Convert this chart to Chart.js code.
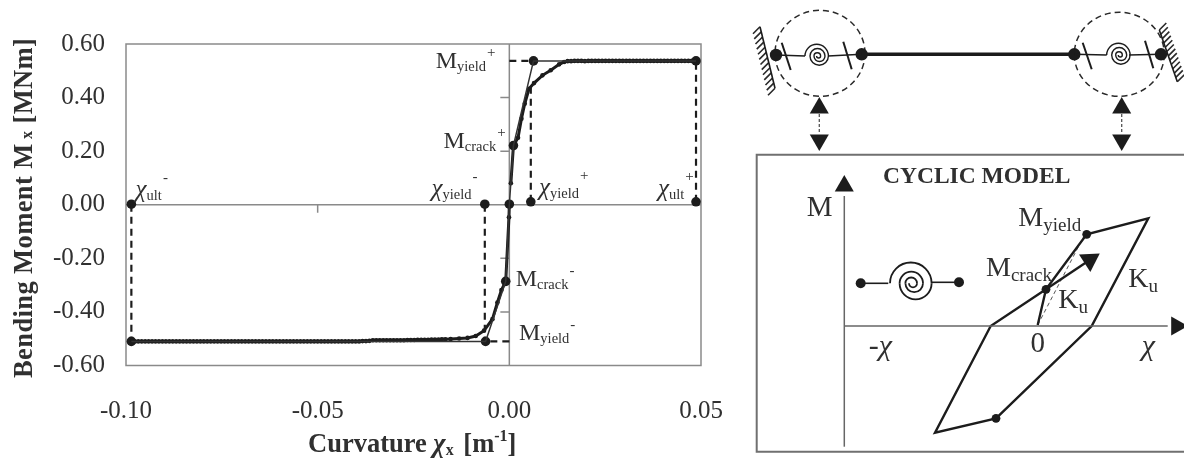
<!DOCTYPE html>
<html>
<head>
<meta charset="utf-8">
<title>Bending moment vs curvature</title>
<script src="https://cdn.jsdelivr.net/npm/chart.js@4/dist/chart.umd.min.js"></script>
<style>
    html, body { margin: 0; background: #fff; }
    #wrap { position: relative; width: 1184px; height: 460px; overflow: hidden; }
    canvas { position: absolute; filter: blur(0.45px); }
    #mainChart { left: 0; top: 0; }
    #beamChart { left: 740px; top: 0; }
    #modelChart { left: 740px; top: 150px; }
</style>
</head>
<body>
<div id="wrap">
    <canvas id="mainChart" width="740" height="460"></canvas>
    <canvas id="beamChart" width="444" height="155"></canvas>
    <canvas id="modelChart" width="444" height="310"></canvas>
</div>
<script>
// left plot: moment curvature curve
const xTicks = [-0.10, -0.05, 0.00, 0.05];
const yTicks = [0.60, 0.40, 0.20, 0.00, -0.20, -0.40, -0.60];

const curveNegX = [
    -.0986, -.0977, -.0968, -.0959, -.0950, -.0941, -.0932, -.0923, -.0914, -.0905,
    -.0896, -.0887, -.0878, -.0869, -.0860, -.0851, -.0842, -.0833, -.0824, -.0815,
    -.0806, -.0797, -.0788, -.0779, -.0770, -.0761, -.0752, -.0743, -.0734, -.0725,
    -.0716, -.0707, -.0698, -.0689, -.0680, -.0671, -.0662, -.0653, -.0644, -.0635,
    -.0626, -.0617, -.0608, -.0599, -.0590, -.0581, -.0572, -.0563, -.0554, -.0545,
    -.0536, -.0527, -.0518, -.0509, -.0500, -.0491, -.0482, -.0473, -.0464, -.0455,
    -.0446, -.0437, -.0428, -.0419, -.0410, -.0401, -.0392, -.0383, -.0374, -.0365,
    -.0356, -.0347, -.0338, -.0329, -.0320, -.0311, -.0302, -.0293, -.0284, -.0275,
    -.0266, -.0257, -.0248, -.0239, -.0230, -.0221, -.0212, -.0203, -.0194, -.0185,
    -.0176, -.0167, -.0153, -.0131, -.0109, -.00877, -.0066, -.00441, -.00311, -.00206,
    -.00094, -.0001, 0
];
const curveNegY = [
    -.510, -.510, -.510, -.510, -.510, -.510, -.510, -.510, -.510, -.510,
    -.510, -.510, -.510, -.510, -.510, -.510, -.510, -.510, -.510, -.510,
    -.510, -.510, -.510, -.510, -.510, -.510, -.510, -.510, -.510, -.510,
    -.510, -.510, -.510, -.510, -.510, -.510, -.510, -.510, -.510, -.510,
    -.510, -.510, -.510, -.510, -.510, -.510, -.510, -.510, -.510, -.510,
    -.510, -.510, -.510, -.510, -.510, -.510, -.510, -.510, -.510, -.510,
    -.510, -.510, -.510, -.510, -.510, -.510, -.510, -.509, -.509, -.508,
    -.506, -.506, -.506, -.506, -.506, -.506, -.506, -.506, -.506, -.506,
    -.505, -.505, -.505, -.504, -.504, -.504, -.504, -.503, -.503, -.503,
    -.502, -.502, -.501, -.499, -.497, -.490, -.470, -.427, -.365, -.318,
    -.286, -.047, 0
];
const curvePosX = [
    .0004, .00107, .00227, .00316, .00402, .00514, .00645, .00864, .0108, .0130, .0143,
    .0152, .0161, .0170, .0179, .0188, .0197, .0206, .0215, .0224, .0233,
    .0242, .0251, .0260, .0269, .0278, .0287, .0296, .0305, .0314, .0323,
    .0332, .0341, .0350, .0359, .0368, .0377, .0386, .0395, .0404, .0413,
    .0422, .0431, .0440, .0449, .0458, .0467, .0476, .0487
];
const curvePosY = [
    .080, .221, .250, .321, .377, .433, .454, .483, .502, .524, .533,
    .536, .536, .537, .537, .537, .536, .537, .537, .537, .537,
    .537, .537, .537, .537, .537, .537, .537, .537, .537, .537,
    .537, .537, .537, .537, .537, .537, .537, .537, .537, .537,
    .537, .537, .537, .537, .537, .537, .537, .537
];
const bilinearX = [-.0986, -.0062, -.00094, 0, .00107, .0063, .0487];
const bilinearY = [-.510, -.510, -.286, 0, .221, .537, .537];
const keyX = [-.0986, -.0986, -.0064, -.0062, -.00094, 0, .00107, .0056, .0063, .0487, .0487];
const keyY = [.002, -.510, .002, -.510, -.286, .002, .221, .011, .537, .537, .011];
const dropLines = [
    { x: [-.0986, -.0986], y: [0, -.510] },
    { x: [-.0064, -.0064], y: [0, -.510] },
    { x: [.0056, .0056], y: [.011, .440] },
    { x: [.0487, .0487], y: [.011, .537] },
    { x: [0, .0063], y: [.537, .537] },
    { x: [0, -.0062], y: [-.510, -.510] }
];
const mainLabels = [
    { x: -.0192, y: .510, base: 'M', sub: 'yield', sup: '+', size: 24, up: 11 },
    { x: -.0172, y: .2127, base: 'M', sub: 'crack', sup: '+', size: 24, up: 11 },
    { x: -.0203, y: .0318, base: 'χ', italic: true, sub: 'yield', sup: '-', size: 25, up: 15 },
    { x: .00775, y: .0381, base: 'χ', italic: true, sub: 'yield', sup: '+', size: 25, up: 15 },
    { x: .0388, y: .0344, base: 'χ', italic: true, sub: 'ult', sup: '+', size: 25, up: 15 },
    { x: -.0975, y: .028, base: 'χ', italic: true, sub: 'ult', sup: '-', size: 25, up: 15 },
    { x: .00167, y: -.302, base: 'M', sub: 'crack', sup: '-', size: 24, up: 11 },
    { x: .00253, y: -.504, base: 'M', sub: 'yield', sup: '-', size: 24, up: 11 }
];

// top right: beam with its two end springs, scale units are the picture's own
const beamX = [861.7, 1074.3];
const beamY = [54.3, 54.3];
const beamNodesX = [776, 861.7, 1074.3, 1161];
const beamNodesY = [55, 54.3, 54.3, 54.3];
const springLeads = [
    { x: [776, 805], y: [55, 56] },
    { x: [828, 861.7], y: [56, 54.3] },
    { x: [1074.3, 1106.7], y: [54.3, 55] },
    { x: [1129, 1161], y: [55, 54.3] }
];
const slashes = [
    { x: [781.7, 790.7], y: [42.7, 70] },
    { x: [843.3, 851.7], y: [41.7, 69.3] },
    { x: [1082.7, 1091.7], y: [42.7, 69.3] },
    { x: [1145, 1153.3], y: [40.7, 68.3] }
];
const walls = [
    { x: [760, 775], y: [26.7, 88.3], side: -1 },
    { x: [1159.3, 1177.3], y: [30, 81.7], side: 1 }
];
const hingeCircles = [
    { x: 820, y: 53.3, rx: 45, ry: 43 },
    { x: 1119.3, y: 54.3, rx: 45, ry: 42 }
];
const beamSpirals = [
    { x: 805, y: 56, radii: [11.7, 9.2, 7.5, 5.5, 3.3, 2] },
    { x: 1106.7, y: 55, radii: [11.7, 9.2, 7.5, 5.5, 3.3, 2] }
];
const linkX = [819.3, 1121.7];
const linkTopY = 114, linkBottomY = 134;
const arrowUpY = [108, 108];
const arrowDownY = [140, 140];

// bottom right: cyclic model, arbitrary units with 0 at the origin of the sketch
const loopX = [0, .83, 4.9, 11.06, 5.4, -4.17, -10.27, -4.7, .83];
const loopY = [.1, 3.67, 9.17, 10.77, 0, -9.23, -10.67, 0, 3.67];
const loopNodesX = [.83, 4.9, -4.17];
const loopNodesY = [3.67, 9.17, -9.23];
const pathArrowX = [.83, 5.2];
const pathArrowY = [3.67, 6.6];
const unloadX = [0, 4.56];
const unloadY = [.1, 8.87];
const frameX = [15, -28.1, -28.1, 15];
const frameY = [17.13, 17.13, -12.57, -12.57];
const mAxisX = [-19.34, -19.34];
const mAxisY = [-12.07, 13];
const chiAxisX = [-19.34, 13];
const chiAxisY = [0, 0];
const modelSpringNodesX = [-17.7, -7.87];
const modelSpringNodesY = [4.27, 4.37];
const modelLeads = [
    { x: [-17.7, -14.94], y: [4.27, 4.27] },
    { x: [-10.6, -7.87], y: [4.37, 4.37] }
];
const modelSpiral = { x: -14.77, y: 4.27, radii: [20.8, 16, 11.7, 8.8, 5.8, 4] };
const modelLabels = [
    { x: -15.47, y: 14.27, base: 'CYCLIC MODEL', size: 23.5, bold: true },
    { x: -23.1, y: 11.03, base: 'M', size: 29 },
    { x: -16.9, y: -2.9, base: '-χ', italic: true, size: 30 },
    { x: -.73, y: -2.57, base: '0', size: 29 },
    { x: 10.4, y: -2.9, base: 'χ', italic: true, size: 30 },
    { x: -1.94, y: 10, base: 'M', sub: 'yield', size: 28, subSize: 19 },
    { x: -5.17, y: 5, base: 'M', sub: 'crack', size: 28, subSize: 19 },
    { x: 9.06, y: 3.93, base: 'K', sub: 'u', size: 28, subSize: 19 },
    { x: 2.06, y: 1.83, base: 'K', sub: 'u', size: 28, subSize: 19 }
];

const serif = '"Liberation Serif", "Times New Roman", serif';
const ink = '#1c1c1c';
const textInk = '#303030';

function pts(xs, ys) {
    return xs.map((x, i) => ({ x: x, y: ys[i] }));
}

function line(xs, ys, color, width, dash) {
    return {
        data: pts(xs, ys), showLine: true, borderColor: color, borderWidth: width,
        borderDash: dash || [], pointRadius: 0, tension: 0
    };
}

function dots(xs, ys, radius, style, rotation) {
    return {
        data: pts(xs, ys), showLine: false, backgroundColor: ink, borderColor: ink,
        pointRadius: radius, pointStyle: style || 'circle', rotation: rotation || 0,
        pointBorderWidth: 0
    };
}

// text with subscript and superscript, drawn piece by piece
function richText(ctx, x, y, pieces) {
    let cx = x;
    pieces.forEach(p => {
        ctx.font = p.font;
        ctx.fillText(p.t, cx, y + (p.dy || 0));
        cx += ctx.measureText(p.t).width + (p.gap || 0);
    });
}

function drawLabel(chart, l) {
    const ctx = chart.ctx;
    const px = chart.scales.x.getPixelForValue(l.x);
    const py = chart.scales.y.getPixelForValue(l.y);
    const style = (l.italic ? 'italic ' : '') + (l.bold ? 'bold ' : '');
    const pieces = [{ t: l.base, font: style + l.size + 'px ' + serif }];
    if (l.sub) pieces.push({ t: l.sub, font: (l.subSize || 14.5) + 'px ' + serif, dy: l.subSize ? 5 : 3, gap: 1 });
    if (l.sup) pieces.push({ t: l.sup, font: '15px ' + serif, dy: -l.up });
    ctx.save();
    ctx.fillStyle = textInk;
    ctx.textBaseline = 'alphabetic';
    ctx.textAlign = 'left';
    richText(ctx, px, py, pieces);
    ctx.restore();
}

function drawSpiral(chart, s, width) {
    const ctx = chart.ctx;
    let x = chart.scales.x.getPixelForValue(s.x);
    const y = chart.scales.y.getPixelForValue(s.y);
    ctx.save();
    ctx.strokeStyle = ink;
    ctx.lineWidth = width;
    s.radii.forEach((r, i) => {
        ctx.beginPath();
        if (i % 2 === 0) {
            ctx.arc(x + r, y, r, Math.PI, 2 * Math.PI);
            x += 2 * r;
        } else {
            ctx.arc(x - r, y, r, 0, Math.PI);
            x -= 2 * r;
        }
        ctx.stroke();
    });
    ctx.restore();
}

const plotFrame = {
    id: 'plotFrame',
    beforeDatasetsDraw(chart) {
        const { ctx, chartArea: a, scales } = chart;
        const zeroX = scales.x.getPixelForValue(0);
        const zeroY = scales.y.getPixelForValue(0);
        ctx.save();
        ctx.strokeStyle = '#8a8a8a';
        ctx.lineWidth = 1.5;
        ctx.strokeRect(a.left, a.top, a.right - a.left, a.bottom - a.top);
        ctx.beginPath();
        ctx.moveTo(a.left, zeroY);
        ctx.lineTo(a.right, zeroY);
        ctx.moveTo(zeroX, a.top);
        ctx.lineTo(zeroX, a.bottom);
        // tick marks sit on the zero lines, not on the frame
        xTicks.filter(v => v > -0.1 && v < 0).forEach(v => {
            const px = scales.x.getPixelForValue(v);
            ctx.moveTo(px, zeroY);
            ctx.lineTo(px, zeroY + 8);
        });
        yTicks.filter(v => v !== 0 && Math.abs(v) < 0.6).forEach(v => {
            const py = scales.y.getPixelForValue(v);
            ctx.moveTo(zeroX, py);
            ctx.lineTo(zeroX - 9, py);
        });
        ctx.stroke();
        ctx.restore();
    },
    afterDatasetsDraw(chart) {
        const ctx = chart.ctx;
        mainLabels.forEach(l => drawLabel(chart, l));
        const bold = 'bold 26.5px ' + serif;
        ctx.save();
        ctx.fillStyle = textInk;
        ctx.textAlign = 'left';
        ctx.textBaseline = 'alphabetic';
        richText(ctx, 308, 451.7, [
            { t: 'Curvature ', font: bold },
            { t: 'χ', font: 'italic ' + bold },
            { t: 'x', font: 'bold 16px ' + serif, dy: 3, gap: 3 },
            { t: ' [m', font: bold },
            { t: '-1', font: 'bold 16px ' + serif, dy: -11 },
            { t: ']', font: bold }
        ]);
        ctx.translate(32, 378);
        ctx.rotate(-Math.PI / 2);
        ctx.letterSpacing = '0.4px';
        richText(ctx, 0, 0, [
            { t: 'Bending Moment M', font: bold },
            { t: ' x', font: 'bold 16px ' + serif },
            { t: ' [MNm]', font: bold }
        ]);
        ctx.restore();
    }
};

new Chart(document.getElementById('mainChart'), {
    type: 'scatter',
    data: {
        datasets: [
            line(bilinearX, bilinearY, '#333', 1.5),
            ...dropLines.map(d => line(d.x, d.y, ink, 2.2, [7, 5])),
            line(curveNegX, curveNegY, ink, 3),
            line(curvePosX, curvePosY, ink, 3),
            dots(curveNegX, curveNegY, 2.3),
            dots(curvePosX, curvePosY, 2.3),
            dots(keyX, keyY, 4.8)
        ]
    },
    options: {
        responsive: false,
        animation: false,
        layout: { autoPadding: false, padding: { top: 44, right: 39, left: 0, bottom: 0 } },
        plugins: { legend: { display: false }, tooltip: { enabled: false } },
        scales: {
            x: {
                type: 'linear', min: -0.10, max: 0.05,
                // tick padding would otherwise eat into the plot width
                afterFit: s => { s.height = 94.5; s.paddingRight = 0; s.paddingLeft = 0; },
                afterBuildTicks: s => { s.ticks = xTicks.map(v => ({ value: v })); },
                grid: { display: false, drawTicks: false },
                border: { display: false },
                ticks: {
                    padding: 31, color: textInk, autoSkip: false, maxRotation: 0,
                    font: { family: serif, size: 25 },
                    callback: v => v.toFixed(2)
                }
            },
            y: {
                type: 'linear', min: -0.60, max: 0.60,
                afterFit: s => { s.width = 126; },
                afterBuildTicks: s => { s.ticks = yTicks.map(v => ({ value: v })); },
                grid: { display: false, drawTicks: false },
                border: { display: false },
                ticks: {
                    padding: 21, color: textInk, autoSkip: false,
                    font: { family: serif, size: 25 },
                    callback: v => v.toFixed(2)
                }
            }
        }
    },
    plugins: [plotFrame]
});

const bareScales = (xMin, xMax, yMin, yMax, flipY) => ({
    x: { type: 'linear', display: false, min: xMin, max: xMax },
    y: { type: 'linear', display: false, min: yMin, max: yMax, reverse: !!flipY }
});

const beamDecor = {
    id: 'beamDecor',
    beforeDatasetsDraw(chart) {
        const { ctx, scales } = chart;
        ctx.save();
        ctx.strokeStyle = '#2a2a2a';
        ctx.lineWidth = 1.5;
        ctx.setLineDash([6, 4]);
        hingeCircles.forEach(c => {
            ctx.beginPath();
            ctx.ellipse(scales.x.getPixelForValue(c.x), scales.y.getPixelForValue(c.y), c.rx, c.ry, 0, 0, 2 * Math.PI);
            ctx.stroke();
        });
        ctx.setLineDash([]);
        ctx.lineWidth = 1.6;
        walls.forEach(w => {
            const x0 = scales.x.getPixelForValue(w.x[0]), x1 = scales.x.getPixelForValue(w.x[1]);
            const y0 = scales.y.getPixelForValue(w.y[0]), y1 = scales.y.getPixelForValue(w.y[1]);
            ctx.beginPath();
            for (let i = 0; i <= 12; i++) {
                const hx = x0 + (x1 - x0) * i / 12, hy = y0 + (y1 - y0) * i / 12;
                ctx.moveTo(hx, hy);
                ctx.lineTo(hx + w.side * 7, hy - w.side * 7);
            }
            ctx.stroke();
        });
        ctx.restore();
        beamSpirals.forEach(s => drawSpiral(chart, s, 1.4));
    }
};

new Chart(document.getElementById('beamChart'), {
    type: 'scatter',
    data: {
        datasets: [
            line(beamX, beamY, ink, 3.4),
            ...springLeads.map(d => line(d.x, d.y, ink, 1.4)),
            ...slashes.map(d => line(d.x, d.y, ink, 2)),
            ...walls.map(d => line(d.x, d.y, ink, 1.6)),
            ...linkX.map(x => line([x, x], [linkTopY, linkBottomY], '#555', 1.3, [3, 2])),
            dots(beamNodesX, beamNodesY, 6.2),
            dots(linkX, arrowUpY, 11, 'triangle'),
            dots(linkX, arrowDownY, 11, 'triangle', 180)
        ]
    },
    options: {
        responsive: false,
        animation: false,
        layout: { autoPadding: false, padding: 0 },
        plugins: { legend: { display: false }, tooltip: { enabled: false } },
        scales: bareScales(740, 1184, 0, 155, true)
    },
    plugins: [beamDecor]
});

const modelDecor = {
    id: 'modelDecor',
    afterDatasetsDraw(chart) {
        drawSpiral(chart, modelSpiral, 1.8);
        modelLabels.forEach(l => drawLabel(chart, l));
    }
};

new Chart(document.getElementById('modelChart'), {
    type: 'scatter',
    data: {
        datasets: [
            line(frameX, frameY, '#707070', 2),
            line(mAxisX, mAxisY, '#666', 1.5),
            line(chiAxisX, chiAxisY, '#666', 1.5),
            line(loopX, loopY, ink, 2.4),
            line(pathArrowX, pathArrowY, ink, 2.4),
            line(unloadX, unloadY, '#555', 1, [4, 3]),
            ...modelLeads.map(d => line(d.x, d.y, ink, 1.6)),
            dots(loopNodesX, loopNodesY, 4.4),
            dots(modelSpringNodesX, modelSpringNodesY, 5),
            dots([-19.34], [14], 11, 'triangle'),
            dots([13.9], [0], 11, 'triangle', 90),
            dots([5.2], [6.6], 12, 'triangle', 57)
        ]
    },
    options: {
        responsive: false,
        animation: false,
        layout: { autoPadding: false, padding: 0 },
        plugins: { legend: { display: false }, tooltip: { enabled: false } },
        scales: bareScales(-29.77, 14.63, -13.4, 17.6)
    },
    plugins: [modelDecor]
});
</script>
</body>
</html>
